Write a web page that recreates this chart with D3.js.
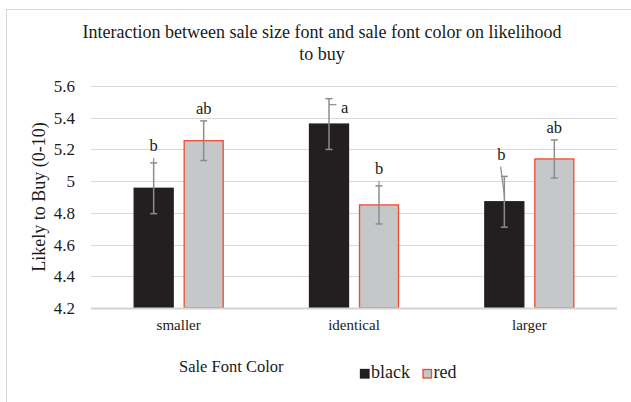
<!DOCTYPE html>
<html>
<head>
<meta charset="utf-8">
<script src="https://cdn.jsdelivr.net/npm/d3@7"></script>
<style>
  body { margin: 0; background: #fff; }
  text { font-family: "Liberation Serif", "Times New Roman", serif; fill: #1a1a1a; }
</style>
</head>
<body>
<div id="chart"></div>
<script>

var categories = ["smaller", "identical", "larger"];
var series = ["black", "red"];
var blackMeans = [4.955, 5.36, 4.87];
var redMeans = [5.255, 4.85, 5.14];
var blackErr = [0.16, 0.16, 0.16];
var redErr = [0.125, 0.12, 0.12];
var blackLetters = ["b", "a", "b"];
var redLetters = ["ab", "b", "ab"];
var yTicks = [4.2, 4.4, 4.6, 4.8, 5.0, 5.2, 5.4, 5.6];

var means = { black: blackMeans, red: redMeans };
var errs = { black: blackErr, red: redErr };
var letters = { black: blackLetters, red: redLetters };

// where each letter sits relative to the top of its error bar (Excel dragged labels)
var letterNudge = {
  black: [
    { dx: 0, dy: -12, lead: [[0, -5], [0, 0]] },
    { dx: 15.7, dy: 14.7, lead: [[0, 6], [7.4, 6]] },
    { dx: -3, dy: -16.7, lead: [[-3.7, -9.7], [0.3, 21]] }
  ],
  red: [
    { dx: 0, dy: -7.3, lead: null },
    { dx: 0, dy: -12, lead: [[0, -5], [0, 0]] },
    { dx: 0, dy: -7, lead: null }
  ]
};

var fills = { black: "#231f20", red: "#c6c7c9" };
var strokes = { black: "#231f20", red: "#ef4a2f" };

var svg = d3.select("#chart")
            .append("svg")
            .attr("width", 631)
            .attr("height", 402);

// outer chart border
svg.append("rect")
   .attr("x", 6.5)
   .attr("y", 9.5)
   .attr("width", 700)
   .attr("height", 500)
   .attr("fill", "white")
   .attr("stroke", "#d9d9d9");

var x0 = d3.scaleBand().domain(categories).range([91, 617]);
var x1 = d3.scaleBand().domain(series).range([0, 90]).paddingInner(0.2);
var groupOff = (x0.bandwidth() - 90) / 2;
var y = d3.scaleLinear().domain([4.2, 5.6]).range([308, 86]);

// gridlines
svg.append("g")
   .selectAll("line")
   .data(yTicks.slice(1))
   .join("line")
   .attr("x1", 91)
   .attr("x2", 617)
   .attr("y1", function(d){ return Math.round(y(d)) + 0.5; })
   .attr("y2", function(d){ return Math.round(y(d)) + 0.5; })
   .attr("stroke", "#d9d9d9")
   .attr("stroke-width", 1);

// y tick labels
svg.append("g")
   .selectAll("text")
   .data(yTicks)
   .join("text")
   .attr("x", 75)
   .attr("y", function(d){ return y(d) + 6; })
   .attr("text-anchor", "end")
   .style("font-size", "17px")
   .text(function(d){ return String(+d.toFixed(1)); });

// bars
var rows = [];
categories.forEach(function(c, i){
  series.forEach(function(s){
    rows.push({ cat: c, i: i, s: s, v: means[s][i], e: errs[s][i], lab: letters[s][i], nudge: letterNudge[s][i] });
  });
});

svg.append("g")
   .selectAll("rect")
   .data(rows)
   .join("rect")
   .attr("x", function(d){ return x0(d.cat) + groupOff + x1(d.s) + 0.5; })
   .attr("y", function(d){ return y(d.v); })
   .attr("width", x1.bandwidth() - 1)
   .attr("height", function(d){ return y(4.2) - y(d.v); })
   .attr("fill", function(d){ return fills[d.s]; })
   .attr("stroke", function(d){ return strokes[d.s]; })
   .attr("stroke-width", 1.3);

// axis baseline
svg.append("line")
   .attr("x1", 91)
   .attr("x2", 617)
   .attr("y1", y(4.2) + 0.5)
   .attr("y2", y(4.2) + 0.5)
   .attr("stroke", "#d4d4d4")
   .attr("stroke-width", 2);

// error bars
var eg = svg.append("g")
            .attr("stroke", "#8c8c8c")
            .attr("stroke-width", 1.5)
            .attr("fill", "none");

rows.forEach(function(d){
  var cx = x0(d.cat) + groupOff + x1(d.s) + x1.bandwidth() / 2;
  var top = y(d.v + d.e), bot = y(d.v - d.e);
  eg.append("line").attr("x1", cx).attr("x2", cx).attr("y1", top).attr("y2", bot);
  eg.append("line").attr("x1", cx - 3.5).attr("x2", cx + 3.5).attr("y1", top).attr("y2", top);
  eg.append("line").attr("x1", cx - 3.5).attr("x2", cx + 3.5).attr("y1", bot).attr("y2", bot);

  if (d.nudge.lead) {
    eg.append("line")
      .attr("stroke-width", 1.2)
      .attr("x1", cx + d.nudge.lead[0][0])
      .attr("y1", top + d.nudge.lead[0][1])
      .attr("x2", cx + d.nudge.lead[1][0])
      .attr("y2", top + d.nudge.lead[1][1]);
  }

  svg.append("text")
     .attr("x", cx + d.nudge.dx)
     .attr("y", top + d.nudge.dy)
     .attr("text-anchor", "middle")
     .style("font-size", "16.5px")
     .text(d.lab);
});

// category labels
svg.append("g")
   .selectAll("text")
   .data(categories)
   .join("text")
   .attr("x", function(d){ return x0(d) + x0.bandwidth() / 2; })
   .attr("y", 330)
   .attr("text-anchor", "middle")
   .style("font-size", "15px")
   .text(function(d){ return d; });

// title
svg.append("text")
   .attr("x", 322)
   .attr("y", 38)
   .attr("text-anchor", "middle")
   .style("font-size", "18px")
   .text("Interaction between sale size font and sale font color on likelihood");

svg.append("text")
   .attr("x", 322)
   .attr("y", 60)
   .attr("text-anchor", "middle")
   .style("font-size", "18px")
   .text("to buy");

// y axis title
svg.append("text")
   .attr("transform", "translate(45,197) rotate(-90)")
   .attr("text-anchor", "middle")
   .style("font-size", "18px")
   .text("Likely to Buy (0-10)");

// x axis title
svg.append("text")
   .attr("x", 179)
   .attr("y", 371.5)
   .style("font-size", "16.5px")
   .text("Sale Font Color");

// legend
var legX = [360, 422.5];
var lg = svg.append("g");
series.forEach(function(s, i){
  lg.append("rect")
    .attr("x", legX[i] + 0.5)
    .attr("y", 369.5)
    .attr("width", 8.5)
    .attr("height", 8.5)
    .attr("fill", fills[s])
    .attr("stroke", strokes[s])
    .attr("stroke-width", 1.3);
  lg.append("text")
    .attr("x", legX[i] + 11)
    .attr("y", 378)
    .style("font-size", "18px")
    .text(s);
});

</script>
</body>
</html>
